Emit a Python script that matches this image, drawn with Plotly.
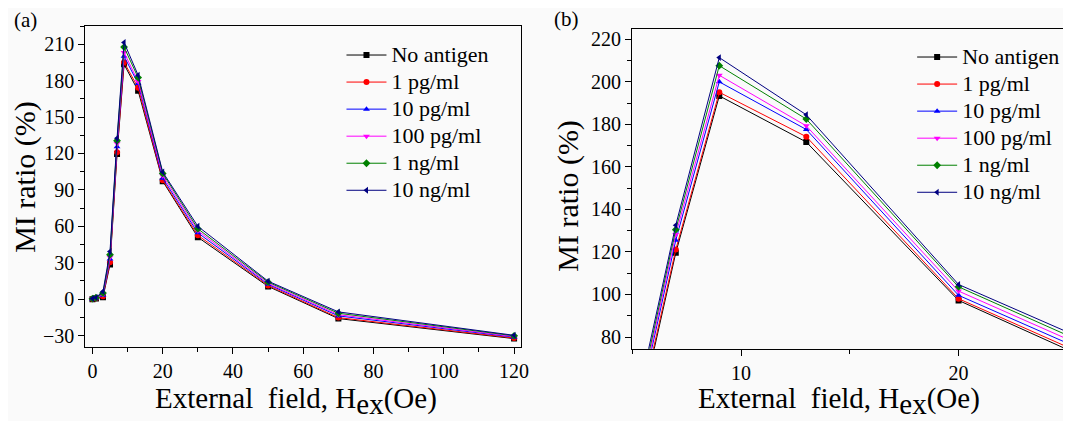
import plotly.graph_objects as go

# External field (Oe)
H = [0, 1, 3, 5, 7, 9, 13, 20, 30, 50, 70, 120]

# MI ratio (%) for each antigen concentration
no_antigen = [0.0, 0.5, 1.5, 28.5, 119.6, 193.4, 171.7, 97.2, 51.0, 10.5, -16.0, -32.5]
pg1 = [0.2, 0.7, 2.3, 30.3, 121.1, 195.1, 174.2, 98.0, 52.6, 11.3, -15.2, -32.0]
pg10 = [0.1, 0.9, 3.2, 33.1, 125.5, 200.0, 177.6, 99.6, 54.6, 12.2, -13.8, -31.3]
pg100 = [0.3, 1.0, 3.8, 34.6, 128.2, 203.1, 179.3, 101.6, 56.4, 13.0, -12.8, -30.8]
ng1 = [0.4, 1.2, 5.0, 36.6, 130.5, 207.6, 182.5, 103.6, 58.0, 14.0, -11.6, -30.2]
ng10 = [0.5, 1.4, 6.3, 39.3, 132.6, 211.4, 184.5, 104.7, 60.0, 14.8, -10.5, -29.8]

names = ["No antigen", "1 pg/ml", "10 pg/ml", "100 pg/ml", "1 ng/ml", "10 ng/ml"]
series = [no_antigen, pg1, pg10, pg100, ng1, ng10]
colors = ["#000000", "#ff0000", "#0000ff", "#ff00ff", "#008000", "#000080"]
symbols = ["square", "circle", "triangle-up", "triangle-down", "diamond", "triangle-left"]

FONT = "Liberation Serif, Times New Roman, DejaVu Serif, serif"

# page body has an 8px margin: figure is drawn 8px smaller and coordinates shifted
W, HT, OFF = 1063, 413, 8


def px(x):
    return (x - OFF) / W


def py(y):
    return 1 - (y - OFF) / HT


fig = go.Figure()
for name, ys, c, s in zip(names, series, colors, symbols):
    label = '<span style="font-size:22px">' + name + '</span>'
    for xa, ya, lg in (("x", "y", "legend"), ("x2", "y2", "legend2")):
        fig.add_trace(go.Scatter(
            x=H, y=ys, name=label, mode="lines+markers",
            line=dict(color=c, width=1),
            marker=dict(color=c, symbol=s, size=6, line=dict(width=0)),
            xaxis=xa, yaxis=ya, legend=lg, showlegend=True,
        ))

axis_common = dict(
    showline=True, linecolor="#000000", linewidth=1.3,
    ticks="outside", ticklen=6, tickwidth=1, tickcolor="#000000",
    tickfont=dict(family=FONT, size=20, color="#000000"),
    showgrid=False, zeroline=False,
)

fig.update_layout(
    width=W, height=HT,
    margin=dict(l=0, r=0, t=0, b=0),
    paper_bgcolor="#fafafa", plot_bgcolor="#fafafa",
    font=dict(family=FONT, color="#000000"),
    xaxis=dict(domain=[px(86), px(525)], range=[-2, 122], dtick=20, tick0=0,
               mirror=True, anchor="y",
               minor=dict(dtick=10, ticklen=4, ticks="outside", tickcolor="#000000"),
               **axis_common),
    yaxis=dict(domain=[py(346.5), py(26)], range=[-39, 225], dtick=30, tick0=0,
               mirror=True, anchor="x",
               minor=dict(dtick=15, ticklen=4, ticks="outside", tickcolor="#000000"),
               **axis_common),
    xaxis2=dict(domain=[px(637), 1.0], range=[5, 24.8], dtick=10, tick0=0,
                mirror=True, anchor="y2",
                minor=dict(dtick=5, ticklen=4, ticks="outside", tickcolor="#000000"),
                **axis_common),
    yaxis2=dict(domain=[py(348.7), py(28.7)], range=[74.5, 225], dtick=20, tick0=0,
                mirror=False, anchor="x2",
                minor=dict(dtick=10, ticklen=4, ticks="outside", tickcolor="#000000"),
                **axis_common),
    legend=dict(x=px(344), y=py(36.5), xanchor="left", yanchor="top",
                bgcolor="rgba(0,0,0,0)", borderwidth=0, itemwidth=40,
                font=dict(family=FONT, size=18.5, color="#000000"), tracegroupgap=0),
    legend2=dict(x=px(919), y=py(38.5), xanchor="left", yanchor="top",
                 bgcolor="rgba(0,0,0,0)", borderwidth=0, itemwidth=40,
                 font=dict(family=FONT, size=18.5, color="#000000"), tracegroupgap=0),
)

sub = 'H<sub><span style="font-size:29px">ex</span></sub>'
xtitle = "External\u00a0 field, " + sub + "(Oe)"
ann_font = dict(family=FONT, size=29, color="#000000")
fig.add_annotation(text=xtitle, xref="paper", yref="paper", x=px(298), y=py(401),
                   xanchor="center", yanchor="middle", showarrow=False, font=ann_font)
fig.add_annotation(text=xtitle, xref="paper", yref="paper", x=px(845), y=py(401),
                   xanchor="center", yanchor="middle", showarrow=False, font=ann_font)
fig.add_annotation(text="MI ratio (%)", xref="paper", yref="paper", x=px(25), y=py(177),
                   xanchor="center", yanchor="middle", textangle=-90, showarrow=False,
                   font=dict(family=FONT, size=30, color="#000000"))
fig.add_annotation(text="MI ratio (%)", xref="paper", yref="paper", x=px(572), y=py(196),
                   xanchor="center", yanchor="middle", textangle=-90, showarrow=False,
                   font=dict(family=FONT, size=30, color="#000000"))
fig.add_annotation(text="(a)", xref="paper", yref="paper", x=px(12), y=py(20),
                   xanchor="left", yanchor="middle", showarrow=False,
                   font=dict(family=FONT, size=21, color="#000000"))
fig.add_annotation(text="(b)", xref="paper", yref="paper", x=px(556), y=py(19),
                   xanchor="left", yanchor="middle", showarrow=False,
                   font=dict(family=FONT, size=21, color="#000000"))

fig.write_html("out.html")
